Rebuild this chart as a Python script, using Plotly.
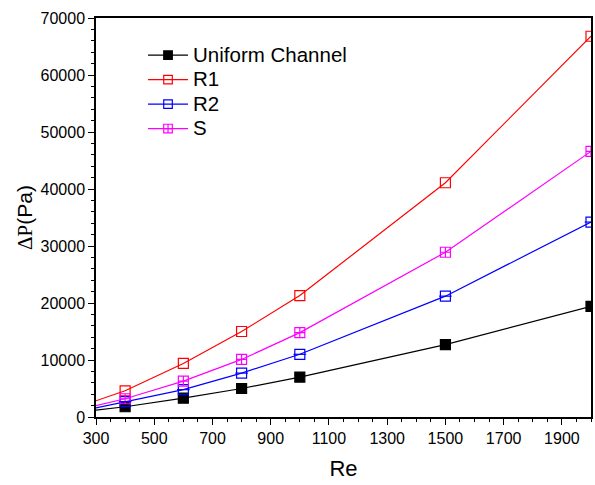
import plotly.graph_objects as go

re_vals = [300, 400, 600, 800, 1000, 1500, 2000]
uniform = [1200, 1800, 3300, 5000, 7000, 12700, 19400]
r1 = [2850, 4600, 9400, 15000, 21300, 41100, 66800]
r2 = [1600, 2700, 4800, 7700, 11000, 21200, 34200]
s = [2000, 3200, 6300, 10100, 14800, 28900, 46600]
names = ["Uniform Channel", "R1", "R2", "S"]

series = [uniform, r1, r2, s]
colors = ["#000000", "#ff0000", "#0000ff", "#ff00ff"]
symbols = ["square", "square-open", "square-open", "square-cross-open"]

sizes = [0] + [10] * (len(re_vals) - 1)

fig = go.Figure()
for name, ys, c, sym in zip(names, series, colors, symbols):
    fig.add_trace(go.Scatter(
        x=re_vals, y=ys, name="<span style='font-size:20.5px'>" + name + "</span>",
        mode="lines+markers",
        line=dict(color=c, width=1.2),
        marker=dict(symbol=sym, size=sizes, opacity=1, color=c,
                    line=dict(color=c, width=1.2)),
    ))
# horizontal bar inside R2 squares
fig.add_trace(go.Scatter(
    x=re_vals[1:], y=r2[1:], mode="markers", showlegend=False, hoverinfo="skip",
    marker=dict(symbol="line-ew", size=9, opacity=1, line=dict(color="#0000ff", width=1.2)),
))

font = "Liberation Sans, Arial, sans-serif"
fig.update_layout(
    width=595, height=485,
    margin=dict(l=96, r=4, t=18, b=68, autoexpand=False),
    plot_bgcolor="white", paper_bgcolor="white",
    font=dict(family=font, size=16, color="black"),
    showlegend=True,
    legend=dict(x=0.095, y=0.95, xanchor="left", yanchor="top",
                bgcolor="rgba(0,0,0,0)", font=dict(size=16.5), tracegroupgap=0,
                itemwidth=40),
)
fig.update_xaxes(
    range=[300, 2000], tickmode="linear", tick0=300, dtick=200,
    ticks="outside", ticklen=6, tickwidth=1.2, tickcolor="black",
    showline=True, linecolor="black", linewidth=1.5, mirror=True,
    showgrid=False, zeroline=False, automargin=False,
    minor=dict(dtick=50, tick0=300, ticks="outside", ticklen=3, tickcolor="black", tickwidth=1.2),
    tickfont=dict(size=16),
    title=dict(text="Re", font=dict(size=22), standoff=15),
)
fig.update_yaxes(
    range=[0, 70000], tickmode="linear", tick0=0, dtick=10000,
    ticks="outside", ticklen=6, tickwidth=1.2, tickcolor="black",
    showline=True, linecolor="black", linewidth=1.5, mirror=True,
    showgrid=False, zeroline=False, automargin=False,
    minor=dict(dtick=2000, ticks="outside", ticklen=3, tickcolor="black", tickwidth=1.2),
    tickfont=dict(size=16), tickformat="d",
    title=dict(text="<span style='font-family:Liberation Serif, Times New Roman, serif'>ΔP</span>(Pa)",
               font=dict(size=21), standoff=2),
)
fig.write_html("out.html", config={"displayModeBar": False},
               post_script="document.body.style.margin='0';document.body.style.padding='0';")
